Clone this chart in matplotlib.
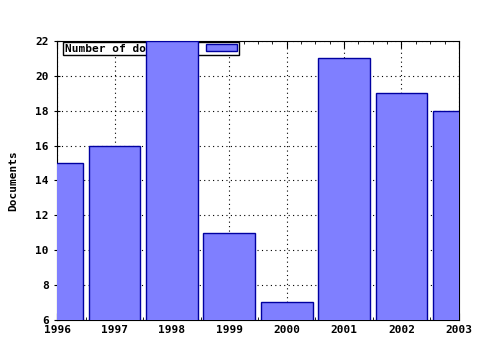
import numpy as np
import matplotlib
matplotlib.use("Agg")
import matplotlib.pyplot as plt
from matplotlib.ticker import MultipleLocator

# data
years = [1996, 1997, 1998, 1999, 2000, 2001, 2002, 2003]
docs = [15, 16, 22, 11, 7, 21, 19, 18]
series_name = "Number of documents"

plt.rcParams['font.family'] = 'DejaVu Sans Mono'
plt.rcParams['font.weight'] = 'bold'
plt.rcParams['font.size'] = 8

fig = plt.figure(figsize=(4.8, 3.5), dpi=100)
ax = fig.add_axes([0.119, 0.086, 0.837, 0.797])

ax.bar(years, docs, width=0.9, color='#7f7fff', edgecolor='#0000a0',
       linewidth=1, zorder=3, label=series_name)

ax.set_xlim(1996, 2003)
ax.set_ylim(6, 22)
ax.set_xticks(years)
ax.set_yticks(np.arange(6, 23, 2))
ax.xaxis.set_minor_locator(MultipleLocator(0.25))
ax.tick_params(axis='x', which='both', direction='in', top=True)
ax.tick_params(axis='x', which='major', length=5)
ax.tick_params(axis='x', which='minor', length=2)
ax.tick_params(axis='y', direction='inout', length=5)
ax.grid(True, color='black', linestyle=(0, (1, 3)), linewidth=0.8, zorder=1)
ax.set_axisbelow(True)
ax.set_ylabel("Documents", fontweight='bold', labelpad=12)

leg = ax.legend(loc='upper left', bbox_to_anchor=(0.012, 1.0), markerfirst=False,
                frameon=True, fancybox=False, edgecolor='black', framealpha=1,
                borderpad=0.15, handlelength=2.8, handleheight=0.6,
                borderaxespad=0.1, handletextpad=1.2)
leg.get_frame().set_linewidth(1)
leg.set_zorder(2)

fig.savefig("out.png", dpi=100)
